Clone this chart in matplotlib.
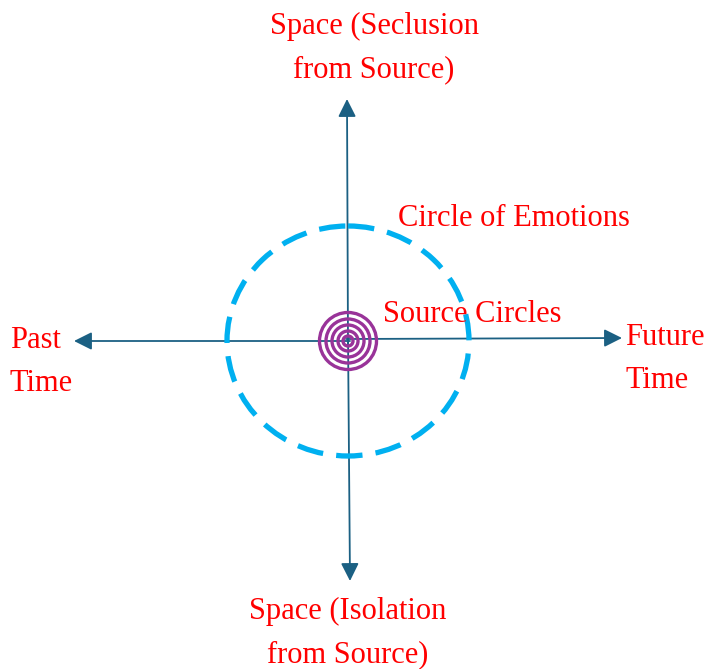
import matplotlib.pyplot as plt
from matplotlib.patches import Ellipse, Circle, FancyArrowPatch

# diagram geometry (pixel space of a 708x669 canvas)
center = (348, 341)
ring_radii = [28.5, 22, 16, 10, 5]
emotion_radii = (121, 115)

axis_arrows = [
    ((350, 341), (74, 341)),    # past
    ((346, 339), (622, 338)),   # future
    ((348, 345), (347, 99)),    # space up
    ((348, 335), (350, 581)),   # space down
]

labels = [
    ("Space (Seclusion\nfrom Source)", 374, 48, "center"),
    ("Space (Isolation\nfrom Source)", 348, 633, "center"),
    ("Past\nTime", 10, 362, "left"),
    ("Future\nTime", 625, 359, "left"),
    ("Circle of Emotions", 398, 219, "left"),
    ("Source Circles", 383, 315, "left"),
]

axis_col = "#1B6083"
ring_col = "#993399"
dash_col = "#00B0F0"
text_col = "#FF0000"

fig = plt.figure(figsize=(7.08, 6.69), dpi=100)
ax = fig.add_axes([0, 0, 1, 1])
ax.set_xlim(0, 708)
ax.set_ylim(669, 0)
ax.axis("off")

for start, end in axis_arrows:
    ax.add_patch(FancyArrowPatch(start, end, arrowstyle="-|>,head_length=6,head_width=3",
                                 mutation_scale=1.8, color=axis_col, lw=1.3,
                                 shrinkA=0, shrinkB=0, zorder=2))

ax.add_patch(Ellipse(center, 2 * emotion_radii[0], 2 * emotion_radii[1], fill=False,
                     ec=dash_col, lw=3.8, linestyle=(0, (5, 2.5)), zorder=3))

for r in ring_radii:
    ax.add_patch(Circle(center, r, fill=False, ec=ring_col, lw=2.4, zorder=4))

for txt, x, y, ha in labels:
    ax.text(x, y, txt, ha=ha, va="center", color=text_col, fontsize=22,
            family="Liberation Serif", linespacing=1.65, zorder=5)

fig.savefig("out.png", dpi=100)
